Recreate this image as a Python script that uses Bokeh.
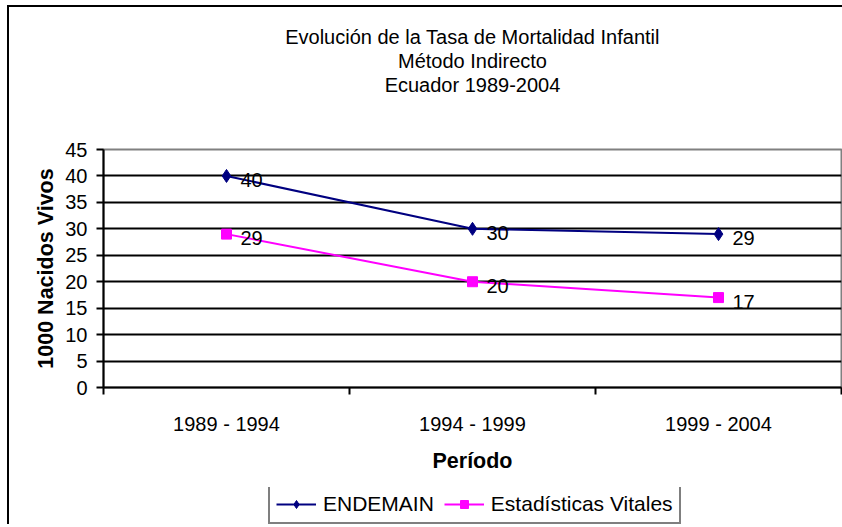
from bokeh.plotting import figure
from bokeh.models import (Range1d, FixedTicker, Title, Legend, LegendItem,
                          ColumnDataSource)
from bokeh.layouts import column
from bokeh.embed import file_html
from bokeh.resources import INLINE
from bokeh.core.properties import value

# ---- data ----
periods = ["1989 - 1994", "1994 - 1999", "1999 - 2004"]
endemain = [40, 30, 29]
estadisticas = [29, 20, 17]
y_ticks = [0, 5, 10, 15, 20, 25, 30, 35, 40, 45]
title_lines = ["Evolución de la Tasa de Mortalidad Infantil",
               "Método Indirecto",
               "Ecuador 1989-2004"]
series_names = ["ENDEMAIN", "Estadísticas Vitales"]

FONT = "Liberation Sans"
FS = "20px"
FSB = "21.5px"
NAVY = "#000080"
MAG = "#FF00FF"

xpos = [i + 0.5 for i in range(len(periods))]
src_e = ColumnDataSource(dict(x=xpos, y=endemain, lbl=[str(v) for v in endemain]))
src_s = ColumnDataSource(dict(x=xpos, y=estadisticas, lbl=[str(v) for v in estadisticas]))

p = figure(width=833, height=480, output_backend="svg", toolbar_location=None,
           x_range=Range1d(0, len(periods)), y_range=Range1d(y_ticks[0], y_ticks[-1]),
           min_border_left=94, min_border_right=1, min_border_top=142,
           min_border_bottom=100, title=None)

# spacer + titles (added bottom-most first)
p.add_layout(Title(text=" ", text_font_size="46.5px", text_font=FONT, standoff=0), "above")
for txt in reversed(title_lines):
    p.add_layout(Title(text=txt, align="center", text_font_size=FS,
                       text_font_style="normal", text_font=FONT,
                       text_color="black", standoff=0), "above")

p.outline_line_color = "#808080"
p.outline_line_width = 2

# y axis
p.yaxis.ticker = FixedTicker(ticks=y_ticks)
p.yaxis.axis_line_color = "black"
p.yaxis.axis_line_width = 2
p.yaxis.major_tick_in = 0
p.yaxis.major_tick_out = 7
p.yaxis.major_tick_line_width = 2
p.yaxis.minor_tick_line_color = None
p.yaxis.major_label_text_font = FONT
p.yaxis.major_label_text_font_size = FS
p.yaxis.major_label_text_color = "black"
p.yaxis.major_label_standoff = 9
p.yaxis.axis_label = "1000 Nacidos Vivos"
p.yaxis.axis_label_text_font = FONT
p.yaxis.axis_label_text_font_size = FSB
p.yaxis.axis_label_text_font_style = "bold"
p.yaxis.axis_label_text_color = "black"
p.yaxis.axis_label_standoff = 4

# x axis
p.xaxis.ticker = FixedTicker(ticks=xpos, minor_ticks=list(range(len(periods) + 1)))
p.xaxis.major_label_overrides = {x: lab for x, lab in zip(xpos, periods)}
p.xaxis.major_tick_line_color = None
p.xaxis.minor_tick_in = 0
p.xaxis.minor_tick_out = 7
p.xaxis.minor_tick_line_width = 2
p.xaxis.minor_tick_line_color = "black"
p.xaxis.axis_line_color = "black"
p.xaxis.axis_line_width = 2
p.xaxis.major_label_text_font = FONT
p.xaxis.major_label_text_font_size = FS
p.xaxis.major_label_text_color = "black"
p.xaxis.major_label_standoff = 18
p.xaxis.axis_label = "Período"
p.xaxis.axis_label_text_font = FONT
p.xaxis.axis_label_text_font_size = FSB
p.xaxis.axis_label_text_font_style = "bold"
p.xaxis.axis_label_text_color = "black"
p.xaxis.axis_label_standoff = 11

# grid
p.xgrid.grid_line_color = None
p.ygrid.ticker = FixedTicker(ticks=y_ticks[1:-1])
p.ygrid.grid_line_color = "black"
p.ygrid.grid_line_width = 2

# series
p.line("x", "y", source=src_e, color=NAVY, line_width=2)
p.scatter("x", "y", source=src_e, marker="diamond", size=13, color=NAVY)
p.line("x", "y", source=src_s, color=MAG, line_width=2)
p.scatter("x", "y", source=src_s, marker="square", size=10, color=MAG)

for src in (src_e, src_s):
    p.text("x", "y", text="lbl", source=src, x_offset=14, y_offset=4,
           text_font=value(FONT), text_font_size=FS, text_color="black",
           text_baseline="middle", text_align="left")

# legend in its own strip below the chart (series glyphs fall outside its view)
lf = figure(width=833, height=37, output_backend="svg", toolbar_location=None,
            x_range=Range1d(0, 1), y_range=Range1d(-2, -1), min_border=0,
            x_axis_location=None, y_axis_location=None)
lf.grid.visible = False
lf.outline_line_color = None
el = lf.line("x", "y", source=src_e, color=NAVY, line_width=2)
em = lf.scatter("x", "y", source=src_e, marker="diamond", size=11, color=NAVY)
sl = lf.line("x", "y", source=src_s, color=MAG, line_width=2)
sm = lf.scatter("x", "y", source=src_s, marker="square", size=9, color=MAG)

legend = Legend(items=[LegendItem(label=series_names[0], renderers=[el, em]),
                       LegendItem(label=series_names[1], renderers=[sl, sm])],
                orientation="horizontal", location=(165, 0))
legend.label_text_font = FONT
legend.label_text_font_size = "21px"
legend.label_text_color = "black"
legend.border_line_color = "black"
legend.border_line_width = 2
legend.background_fill_color = "white"
legend.background_fill_alpha = 1
legend.glyph_width = 40
legend.label_standoff = 7
legend.spacing = 10
legend.padding = 6
legend.margin = 0
lf.add_layout(legend, "center")

layout = column(p, lf, spacing=0,
                styles={"border-left": "2px solid black", "border-top": "2px solid black",
                        "margin-left": "7px", "margin-top": "5px"})

open("out.html", "w").write(file_html(layout, INLINE))
